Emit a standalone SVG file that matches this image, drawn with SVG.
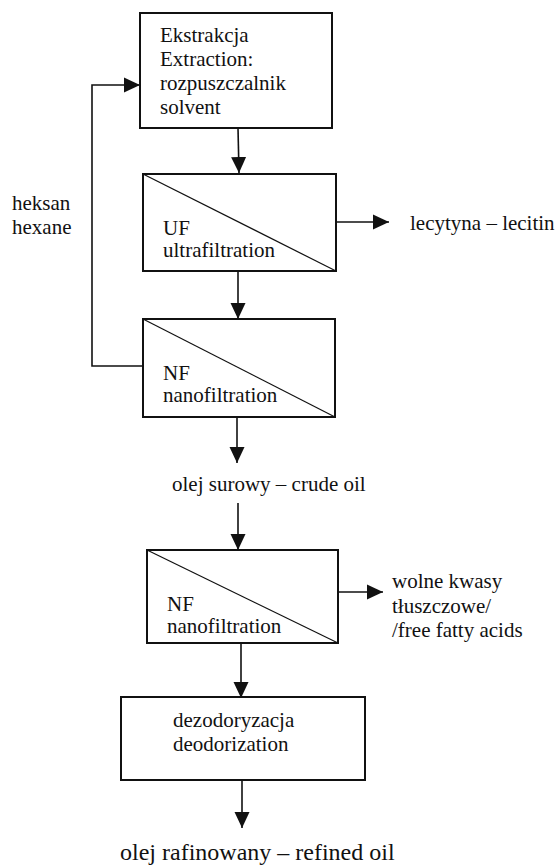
<svg xmlns="http://www.w3.org/2000/svg" width="558" height="865" viewBox="0 0 558 865" font-family="Liberation Serif, Times New Roman, serif">
<style>
text{font-family:'Liberation Serif','Times New Roman',Times,serif;font-size:21px;fill:#111}
.box{fill:#fff;stroke:#111;stroke-width:2}
.diag{stroke:#111;stroke-width:1.2;fill:none}
.con{stroke:#111;stroke-width:1.6;fill:none}
.big{font-size:24px}
</style>
<defs>
<marker id="ah" markerUnits="userSpaceOnUse" markerWidth="17" markerHeight="17" viewBox="0 0 17 17" refX="16" refY="8.5" orient="auto">
<path d="M0,1 L16,8.5 L0,16 Z" fill="#111"/>
</marker>
</defs>
<g id="connectors">
<line class="con" x1="238" y1="128" x2="239" y2="173" marker-end="url(#ah)"/>
<line class="con" x1="238" y1="271" x2="238" y2="319" marker-end="url(#ah)"/>
<line class="con" x1="237" y1="417" x2="237" y2="463" marker-end="url(#ah)"/>
<line class="con" x1="238" y1="503" x2="238" y2="550" marker-end="url(#ah)"/>
<line class="con" x1="241" y1="643" x2="241" y2="698" marker-end="url(#ah)"/>
<line class="con" x1="242" y1="780" x2="242" y2="828" marker-end="url(#ah)"/>
<line class="con" x1="336" y1="222" x2="389" y2="222" marker-end="url(#ah)"/>
<line class="con" x1="338" y1="592" x2="383" y2="592" marker-end="url(#ah)"/>
<polyline class="con" points="143,366 92,366 92,85 140,85" marker-end="url(#ah)"/>
</g>
<g id="extraction">
<rect class="box" x="140" y="13" width="192" height="115"/>
<text x="160" y="42">Ekstrakcja</text>
<text x="160" y="66">Extraction:</text>
<text x="160" y="90">rozpuszczalnik</text>
<text x="160" y="114">solvent</text>
</g>
<g id="uf">
<rect class="box" x="143" y="174" width="193" height="97"/>
<line class="diag" x1="143" y1="174" x2="336" y2="271"/>
<text x="163" y="235">UF</text>
<text x="163" y="257">ultrafiltration</text>
</g>
<g id="nf1">
<rect class="box" x="143" y="319" width="192" height="98"/>
<line class="diag" x1="143" y1="319" x2="335" y2="417"/>
<text x="163" y="380">NF</text>
<text x="163" y="402">nanofiltration</text>
</g>
<g id="nf2">
<rect class="box" x="147" y="550" width="191" height="93"/>
<line class="diag" x1="147" y1="550" x2="338" y2="643"/>
<text x="167" y="611">NF</text>
<text x="167" y="633">nanofiltration</text>
</g>
<g id="deodor">
<rect class="box" x="121" y="697" width="244" height="83"/>
<text x="173" y="727">dezodoryzacja</text>
<text x="173" y="751">deodorization</text>
</g>
<g id="labels">
<text x="12" y="210">heksan</text>
<text x="12" y="234">hexane</text>
<text x="410" y="230">lecytyna – lecitin</text>
<text x="172" y="491">olej surowy – crude oil</text>
<text x="392" y="588">wolne kwasy</text>
<text x="392" y="613">tłuszczowe/</text>
<text x="392" y="637">/free fatty acids</text>
<text class="big" x="120" y="860">olej rafinowany – refined oil</text>
</g>
</svg>
